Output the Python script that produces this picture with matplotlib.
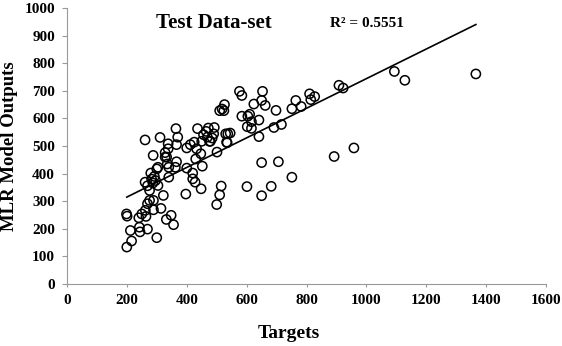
import matplotlib
matplotlib.use("Agg")
import matplotlib.pyplot as plt
import numpy as np

targets = [200, 216, 199, 201, 212, 242, 244, 240, 250, 269, 264, 262, 269, 276, 289, 289,
           261, 288, 311, 300, 314, 322, 332, 348, 356,
           280, 300, 304, 261, 269, 276, 287, 296, 304, 292, 283,
           328, 328, 338, 338, 333, 340, 335, 340, 364, 370, 366, 366, 362,
           400, 400, 397, 412, 425, 420, 420, 428, 436, 430, 433, 448, 452, 447, 450, 456,
           465, 472, 479, 485, 492, 490, 501, 500, 510, 515, 510, 518, 526, 524, 530, 535,
           537, 545, 533, 469, 476,
           576, 584, 584, 602, 604, 610, 601, 616, 616, 624, 641, 641, 650, 650, 653, 650,
           662, 682, 691, 698, 706, 716, 751, 751, 764, 782, 810, 814, 827, 892, 908, 922,
           958, 1093, 1128, 1365]
outputs = [134, 156, 254, 246, 194, 206, 189, 240, 254, 199, 245, 267, 291, 303, 269, 303,
           522, 466, 531, 168, 274, 321, 234, 249, 215,
           402, 417, 423, 369, 356, 339, 366, 375, 357, 390, 380,
           476, 460, 508, 490, 460, 423, 435, 387, 563, 532, 505, 443, 423,
           493, 420, 326, 505, 514, 402, 381, 369, 563, 453, 490, 345, 427, 472, 517, 541,
           553, 565, 517, 529, 567, 544, 478, 288, 323, 355, 628, 634, 650, 628, 544, 512,
           544, 547, 514, 532, 517,
           698, 683, 608, 570, 608, 615, 353, 588, 564, 652, 594, 534, 440, 320, 698, 665,
           647, 354, 567, 629, 443, 578, 635, 387, 665, 643, 689, 668, 679, 462, 720, 710,
           493, 770, 738, 761]

trend_slope = 0.5365
trend_intercept = 207.7
trend_x = [200, 1365]
r2_text = "R² = 0.5551"
title_text = "Test Data-set"
x_ticks = [0, 200, 400, 600, 800, 1000, 1200, 1400, 1600]
y_ticks = [0, 100, 200, 300, 400, 500, 600, 700, 800, 900, 1000]

plt.rcParams['font.family'] = ['Liberation Serif', 'DejaVu Serif']
plt.rcParams['font.weight'] = 'bold'

fig = plt.figure(figsize=(5.62, 3.46), dpi=100)
ax = fig.add_axes([0.119, 0.179, 0.853, 0.798])

ax.scatter(targets, outputs, s=44, facecolors='none', edgecolors='black', linewidths=1.1, zorder=3)
tx = np.array(trend_x, dtype=float)
ax.plot(tx, trend_slope * tx + trend_intercept, color='black', linewidth=1.2, zorder=2)

ax.set_xlim(0, 1600)
ax.set_ylim(0, 1000)
ax.set_xticks(x_ticks)
ax.set_yticks(y_ticks)
ax.tick_params(axis='both', labelsize=11, width=0.8, direction='out')
ax.tick_params(axis='y', length=3.5, pad=5)
ax.tick_params(axis='x', length=2.5, pad=5)
for lab in ax.get_xticklabels() + ax.get_yticklabels():
    lab.set_fontweight('bold')
ax.spines['top'].set_visible(False)
ax.spines['right'].set_visible(False)
ax.spines['left'].set_color('#999999')
ax.spines['bottom'].set_color('#999999')
ax.tick_params(colors='#999999', labelcolor='black')

ax.set_xlabel('Targets', fontsize=14, fontweight='bold')
ax.set_ylabel('MLR Model Outputs', fontsize=13.5, fontweight='bold')
ax.xaxis.set_label_coords(0.463, -0.147)
ax.yaxis.set_label_coords(-0.102, 0.5)

ax.text(490, 944, title_text, fontsize=15, fontweight='bold', ha='center', va='center')
ax.text(1001, 942, r2_text, fontsize=11, fontweight='bold', ha='center', va='center')

fig.savefig('out.png', dpi=100)
